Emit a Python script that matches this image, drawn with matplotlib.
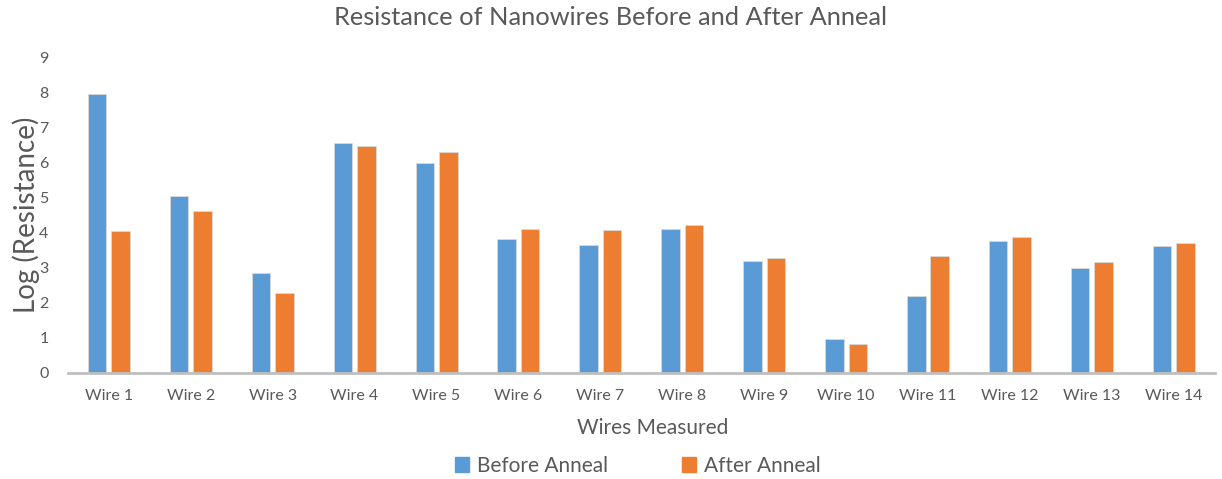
import matplotlib
matplotlib.use("Agg")
import matplotlib.pyplot as plt
import numpy as np
from matplotlib.patches import Patch

categories = ["Wire 1", "Wire 2", "Wire 3", "Wire 4", "Wire 5", "Wire 6", "Wire 7",
              "Wire 8", "Wire 9", "Wire 10", "Wire 11", "Wire 12", "Wire 13", "Wire 14"]
before = [7.94, 5.03, 2.84, 6.56, 5.97, 3.81, 3.65, 4.09, 3.17, 0.95, 2.18, 3.75, 2.98, 3.61]
after = [4.04, 4.62, 2.27, 6.46, 6.29, 4.09, 4.08, 4.21, 3.28, 0.82, 3.33, 3.87, 3.15, 3.71]
yticks = list(range(0, 10))

BLUE = "#5B9BD5"
ORANGE = "#ED7D31"
TXT = "#595959"

plt.rcParams['font.family'] = ['Lato', 'DejaVu Sans']

fig = plt.figure(figsize=(12.22, 4.79), dpi=100)
ax = fig.add_axes([0.0556, 0.222, 0.9384, 0.659])

x = np.arange(len(categories))
w = 0.226
off = 0.143
ax.bar(x - off, before, w, color=BLUE, edgecolor="#d9d9d9", linewidth=0.6, label="Before Anneal")
ax.bar(x + off, after, w, color=ORANGE, edgecolor="#d9d9d9", linewidth=0.6, label="After Anneal")

ax.set_xlim(-0.5, len(categories) - 0.5)
ax.set_ylim(0, 9)
ax.set_yticks(yticks)
ax.set_xticks(x)
ax.set_xticklabels(categories)
ax.tick_params(axis='both', length=0, colors=TXT, labelsize=11.5)
ax.tick_params(axis='x', pad=12)
ax.tick_params(axis='y', pad=14)
for s in ["top", "right", "left"]:
    ax.spines[s].set_visible(False)
ax.spines["bottom"].set_color("#BFBFBF")
ax.spines["bottom"].set_linewidth(2)

fig.text(0.5, 0.963, "Resistance of Nanowires Before and After Anneal", ha="center", va="center",
         fontsize=18.3, color=TXT)
ax.set_ylabel("Log (Resistance)", fontsize=20, color=TXT)
ax.yaxis.set_label_coords(-0.024, 0.5)
ax.set_xlabel("Wires Measured", fontsize=15, color=TXT)
ax.xaxis.set_label_coords(0.51, -0.145)

handles = [Patch(color=BLUE, label="Before Anneal"), Patch(color=ORANGE, label="After Anneal")]
leg = fig.legend(handles=handles, loc="center", bbox_to_anchor=(0.522, 0.028), ncol=2, frameon=False,
                 fontsize=15, handlelength=0.7, handleheight=0.7, columnspacing=3.5, handletextpad=0.4)
for t in leg.get_texts():
    t.set_color(TXT)

fig.savefig("out.png", dpi=100)
